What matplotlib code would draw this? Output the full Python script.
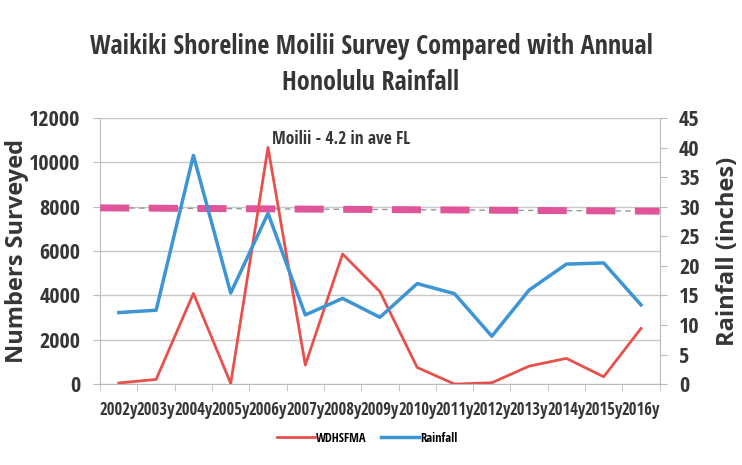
import matplotlib
matplotlib.use("Agg")
import matplotlib.pyplot as plt
import numpy as np

# chart data
years = ["2002y", "2003y", "2004y", "2005y", "2006y", "2007y", "2008y", "2009y",
         "2010y", "2011y", "2012y", "2013y", "2014y", "2015y", "2016y"]
surveyed = [50, 210, 4090, 30, 10680, 860, 5870, 4170, 750, 0, 60, 810, 1160, 330, 2510]
rainfall = [12.1, 12.5, 38.7, 15.4, 28.9, 11.7, 14.5, 11.3, 17.0, 15.3, 8.1, 15.9, 20.3, 20.5, 13.4]
ave_line = [7950, 7800]  # dashed reference line, left end / right end
ave_label = "Moilii - 4.2 in ave FL"

cond = ["Open Sans Condensed", "Carlito", "DejaVu Sans"]
dark = "#363636"

fig = plt.figure(figsize=(7.42, 4.65), dpi=100)
ax = fig.add_axes([0.135, 0.174, 0.754, 0.572])
ax2 = ax.twinx()

x = np.arange(len(years))
ax.set_xlim(-0.5, len(years) - 0.5)
ax.set_ylim(0, 12000)
ax2.set_ylim(0, 45)

# grid + dashed average line
ax.set_yticks(np.arange(0, 12001, 2000))
ax.grid(axis="y", color="#c8c8c8", linewidth=1)
ax.set_axisbelow(True)
ax.plot([-0.5, len(years) - 0.5], ave_line, color="#999999", lw=1, ls=(0, (4, 3)), zorder=2)
ax.plot([-0.5, len(years) - 0.5], ave_line, color="#e0559a", lw=5, ls=(0, (4.2, 2.8)), zorder=3)

ax.plot(x, surveyed, color="#e8504c", lw=2, zorder=4, label="WDHSFMA")
ax2.plot(x, rainfall, color="#3d95d3", lw=2.5, zorder=4, label="Rainfall")

ax.text(4.1, 10650, ave_label, family=cond, fontsize=12.5, fontweight="bold", color=dark,
        ha="left", va="bottom")

# axes styling
for a in (ax, ax2):
    for s in a.spines.values():
        s.set_visible(False)
ax.spines["left"].set_visible(True)
ax.spines["left"].set_color("#bbbbbb")
ax.spines["bottom"].set_visible(True)
ax.spines["bottom"].set_color("#bbbbbb")
ax2.spines["right"].set_visible(True)
ax2.spines["right"].set_color("#bbbbbb")

ax.set_xticks(x)
ax.set_xticklabels(years, family=cond, fontsize=12, fontweight="bold", color=dark)
ax.tick_params(axis="x", length=0, pad=12)
ax.set_xticks(np.arange(-0.5, len(years)), minor=True)
ax.tick_params(axis="x", which="minor", length=5, color="#bbbbbb")
ax.tick_params(axis="y", length=5, color="#bbbbbb", pad=9)
for lab in ax.get_yticklabels():
    lab.set_family(cond); lab.set_fontsize(16); lab.set_fontweight("bold"); lab.set_color(dark)

ax2.set_yticks(np.arange(0, 46, 5))
ax2.tick_params(axis="y", length=5, color="#bbbbbb", pad=9)
for lab in ax2.get_yticklabels():
    lab.set_family(cond); lab.set_fontsize(16); lab.set_fontweight("bold"); lab.set_color(dark)

ax.set_ylabel("Numbers Surveyed", family="Open Sans", fontsize=17, fontweight="bold",
              color=dark, labelpad=0)
ax2.set_ylabel("Rainfall (inches)", family="Open Sans", fontsize=17, fontweight="bold",
               color=dark, labelpad=12)

fig.suptitle("Waikiki Shoreline Moilii Survey Compared with Annual\nHonolulu Rainfall",
             family=cond, fontsize=18.8, fontweight="bold", color=dark, y=0.93,
             linespacing=1.45)

h1, l1 = ax.get_legend_handles_labels()
h2, l2 = ax2.get_legend_handles_labels()
fig.legend(h1 + h2, l1 + l2, loc="center", bbox_to_anchor=(0.495, 0.058), ncol=2,
           frameon=False, prop={"family": cond, "size": 9, "weight": "bold"}, handlelength=3,
           handletextpad=0.1, columnspacing=1.2)

fig.savefig("out.png", dpi=100)
